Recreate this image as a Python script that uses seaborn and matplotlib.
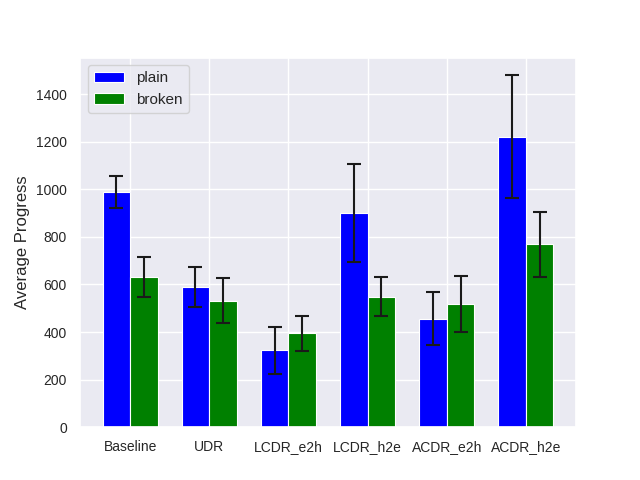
import matplotlib
matplotlib.use("Agg")
import matplotlib.pyplot as plt
import numpy as np
import pandas as pd
import seaborn as sns

categories = ["Baseline", "UDR", "LCDR_e2h", "LCDR_h2e", "ACDR_e2h", "ACDR_h2e"]
series_names = ["plain", "broken"]
plain_mean = [990, 590, 323, 900, 456, 1220]
plain_err = [67, 84, 99, 205, 110, 259]
broken_mean = [632, 532, 395, 548, 519, 768]
broken_err = [84, 93, 74, 81, 118, 135]
colors = ["blue", "green"]

sns.set_theme(style="darkgrid")
plt.rcParams["font.family"] = ["Liberation Sans", "DejaVu Sans"]

df = pd.DataFrame({
    "cat": categories * 2,
    "series": [series_names[0]] * len(categories) + [series_names[1]] * len(categories),
    "value": plain_mean + broken_mean,
    "err": plain_err + broken_err,
})

fig, ax = plt.subplots(figsize=(6.4, 4.8), dpi=100)
sns.barplot(data=df, x="cat", y="value", hue="series", order=categories,
            hue_order=series_names, palette=dict(zip(series_names, colors)),
            saturation=1, width=0.7, gap=0, errorbar=None, legend=False,
            edgecolor="white", linewidth=0.8, ax=ax)

errs = [plain_err, broken_err]
means = [plain_mean, broken_mean]
for cont, m, e in zip(ax.containers, means, errs):
    xs = [p.get_x() + p.get_width() / 2 for p in cont.patches]
    ax.errorbar(xs, m, yerr=e, fmt="none", ecolor="0.1", elinewidth=1.5,
                capsize=5, capthick=1.5)

ax.xaxis.grid(True)
ax.set_axisbelow(True)
ax.set_xlim(-0.635, 5.635)
ax.set_ylim(0, None)
ax.set_xlabel("")
ax.set_ylabel("Average Progress", fontsize=12)
ax.tick_params(axis="x", labelsize=10)
ax.tick_params(axis="y", labelsize=10)
ax.legend(ax.containers, series_names, loc="upper left", fontsize=11)

fig.subplots_adjust(left=0.125, right=0.9, bottom=0.11, top=0.88)
fig.savefig("out.png", dpi=100)
